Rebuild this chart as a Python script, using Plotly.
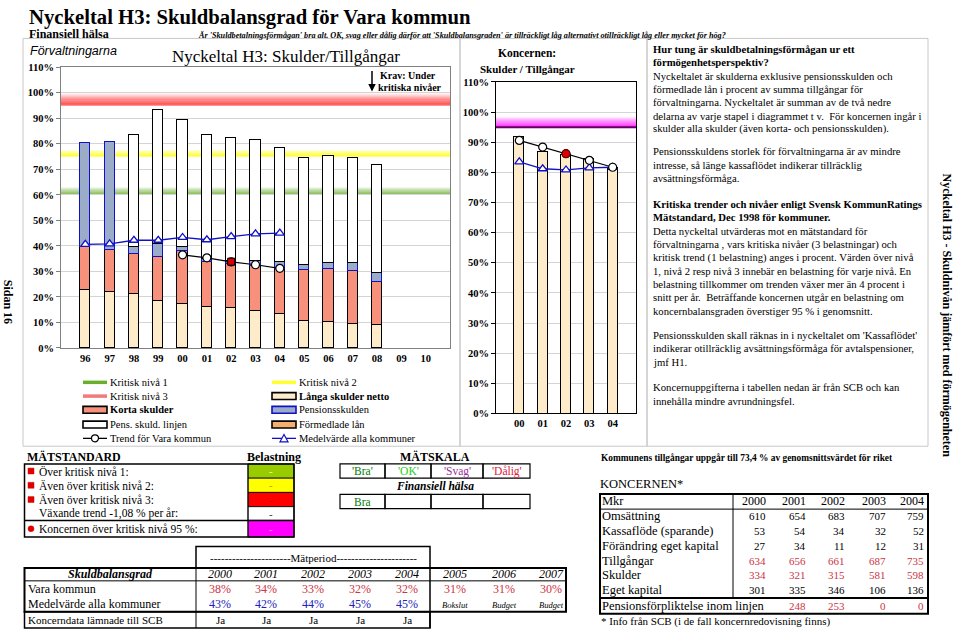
import plotly.graph_objects as go

W, H = 960, 635
SERIF = "Liberation Serif"
SANS = "Liberation Sans"

# ---------------- data: Förvaltningarna ----------------
years = ['96', '97', '98', '99', '00', '01', '02', '03', '04', '05', '06', '07', '08', '09', '10']
langa_skulder = [22.6, 21.9, 20.9, 18.5, 17.1, 16.0, 15.4, 14.4, 13.2, 10.3, 10.1, 9.4, 9.1, None, None]
korta_skulder = [17.0, 16.4, 16.0, 17.0, 20.7, 17.7, 17.4, 17.8, 17.7, 20.1, 20.7, 20.7, 16.7, None, None]
formedlade_lan = [None] * 15
pensionsskulden = [40.5, 42.3, 2.4, 5.2, 1.6, 1.0, 1.2, 1.8, 2.8, 2.1, 2.4, 3.0, 3.5, None, None]
pens_skuld_linjen = [None, None, 44.0, 52.5, 49.9, 48.6, 48.3, 47.3, 44.4, 42.0, 41.9, 41.3, 42.2, None, None]
medel_alla = [40.6, 40.8, 42.2, 42.2, 43.3, 42.4, 43.6, 44.7, 45.0, None, None, None, None, None, None]
trend_vara = [None, None, None, None, 36.5, 35.3, 33.7, 32.6, 31.2, None, None, None, None, None, None]
aktuellt_ar = ['02']
aktuellt_varde = [33.8]
kritisk_niva = [60, 75, 95]

# ---------------- data: Koncernen ----------------
k_years = ['00', '01', '02', '03', '04']
k_skuldgrad = [91.7, 86.8, 85.9, 84.6, 81.4]
k_trend = [90.6, 88.4, 86.2, 84.0, 81.7]
k_medel = [83.5, 81.2, 80.8, 81.5, 81.7]
k_aktuellt_ar = ['02']
k_aktuellt_varde = [86.2]
k_kritisk = [95]

# ---------------- data: tables ----------------
matstandard_rows = ['Över kritisk nivå 1:', 'Även över kritisk nivå 2:', 'Även över kritisk nivå 3:',
                    'Växande trend -1,08 % per år:', 'Koncernen över kritisk nivå 95 %:']
belastning = ['-', '-', '-', '-', '-']
matskala = ["'Bra'", "'OK'", "'Svag'", "'Dålig'"]
halsa = ['Bra', '', '', '']
period_years = ['2000', '2001', '2002', '2003', '2004', '2005', '2006', '2007']
vara_pct = [38, 34, 33, 32, 32, 31, 31, 30]
medel_pct = [43, 42, 44, 45, 45]
period_status = ['Bokslut', 'Budget', 'Budget']
koncerndata = ['Ja', 'Ja', 'Ja', 'Ja', 'Ja']

kon_years = ['2000', '2001', '2002', '2003', '2004']
kon_rows = ['Omsättning', 'Kassaflöde (sparande)', 'Förändring eget kapital', 'Tillgångar', 'Skulder', 'Eget kapital']
omsattning = [610, 654, 683, 707, 759]
kassaflode = [53, 54, 34, 32, 52]
forandring = [27, 34, 11, 12, 31]
tillgangar = [634, 656, 661, 687, 735]
skulder = [334, 321, 315, 581, 598]
eget_kapital = [301, 335, 346, 106, 136]
pensionsforpl = [None, 248, 253, 0, 0]

# ---------------- colours ----------------
C_LANGA = '#FDEBC9'
C_KORTA = '#F8917C'
C_FORM = '#F6AE6E'
C_PENS = '#9BACC8'
C_BLUE = '#1010C8'
C_RED = '#CC3344'
C_GREEN_LVL = '#6AAE2E'
C_YEL_LVL = '#FFFF00'
C_RED_LVL = '#FF2A2A'

fig = go.Figure()

# ---------------- left chart ----------------
bar_w = 0.42
fig.add_trace(go.Bar(x=years, y=langa_skulder, width=bar_w, marker=dict(color=C_LANGA, line=dict(color='black', width=1.2)), xaxis='x', yaxis='y', showlegend=False))
fig.add_trace(go.Bar(x=years, y=korta_skulder, width=bar_w, marker=dict(color=C_KORTA, line=dict(color='black', width=1.2)), xaxis='x', yaxis='y', showlegend=False))
fig.add_trace(go.Bar(x=years, y=formedlade_lan, width=bar_w, marker=dict(color=C_FORM, line=dict(color='black', width=1.2)), xaxis='x', yaxis='y', showlegend=False))
fig.add_trace(go.Bar(x=years, y=pensionsskulden, width=bar_w, marker=dict(color=C_PENS, line=dict(color=C_BLUE, width=1.2)), xaxis='x', yaxis='y', showlegend=False))
fig.add_trace(go.Bar(x=years, y=pens_skuld_linjen, width=bar_w, marker=dict(color='white', line=dict(color='black', width=1.2)), xaxis='x', yaxis='y', showlegend=False))
fig.add_trace(go.Scatter(x=years, y=medel_alla, mode='lines+markers', line=dict(color=C_BLUE, width=1.3),
                         marker=dict(symbol='triangle-up', size=8, color='white', line=dict(color=C_BLUE, width=1.3)),
                         xaxis='x', yaxis='y', showlegend=False))
fig.add_trace(go.Scatter(x=years, y=trend_vara, mode='lines+markers', line=dict(color='black', width=1.2),
                         marker=dict(symbol='circle', size=8, color='white', line=dict(color='black', width=1.2)),
                         xaxis='x', yaxis='y', showlegend=False))
fig.add_trace(go.Scatter(x=aktuellt_ar, y=aktuellt_varde, mode='markers',
                         marker=dict(symbol='square', size=7, color='#DD0000', line=dict(color='black', width=1)),
                         xaxis='x', yaxis='y', showlegend=False))

# ---------------- middle chart ----------------
fig.add_trace(go.Bar(x=k_years, y=k_skuldgrad, width=0.42, marker=dict(color=C_LANGA, line=dict(color='black', width=1.2)), xaxis='x2', yaxis='y2', showlegend=False))
fig.add_trace(go.Scatter(x=k_years, y=k_medel, mode='lines+markers', line=dict(color=C_BLUE, width=1.3),
                         marker=dict(symbol='triangle-up', size=8, color='white', line=dict(color=C_BLUE, width=1.3)),
                         xaxis='x2', yaxis='y2', showlegend=False))
fig.add_trace(go.Scatter(x=k_years, y=k_trend, mode='lines+markers', line=dict(color='black', width=1.2),
                         marker=dict(symbol='circle', size=8, color='white', line=dict(color='black', width=1.2)),
                         xaxis='x2', yaxis='y2', showlegend=False))
fig.add_trace(go.Scatter(x=k_aktuellt_ar, y=k_aktuellt_varde, mode='markers',
                         marker=dict(symbol='circle', size=8, color='#DD0000', line=dict(color='#660000', width=1)),
                         xaxis='x2', yaxis='y2', showlegend=False))

shapes = []
annotations = []


def px(x):
    return x / W


def py(y):
    return 1 - y / H


def T(x, y, text, size=11, color='black', bold=False, italic=False, anchor='left', family=SERIF, angle=0):
    if bold:
        text = '<b>' + text + '</b>'
    if italic:
        text = '<i>' + text + '</i>'
    annotations.append(dict(x=px(x), y=py(y), xref='paper', yref='paper', text=text, showarrow=False,
                            xanchor=anchor, yanchor='middle', borderpad=0,
                            font=dict(family=family, size=size, color=color), textangle=angle))


def R(x0, y0, x1, y1, line='black', width=1, fill=None, layer='above'):
    d = dict(type='rect', xref='paper', yref='paper', x0=px(x0), x1=px(x1), y0=py(y0), y1=py(y1),
             line=dict(color=line, width=width), layer=layer)
    if fill:
        d['fillcolor'] = fill
    shapes.append(d)


def L(x0, y0, x1, y1, color='black', width=1):
    shapes.append(dict(type='line', xref='paper', yref='paper', x0=px(x0), x1=px(x1), y0=py(y0), y1=py(y1),
                       line=dict(color=color, width=width)))


def band(xref, yref, level, thick, color, n=10, top_op=0.05):
    step = thick / n
    for k in range(n):
        op = 1.0 - (1.0 - top_op) * k / (n - 1)
        shapes.append(dict(type='rect', xref=xref, yref=yref, x0=0, x1=1, y0=level + k * step, y1=level + (k + 1) * step,
                           fillcolor=color, opacity=op, line=dict(width=0), layer='below'))


# critical level bands
band('x domain', 'y', kritisk_niva[0], 3.2, C_GREEN_LVL, n=10, top_op=0.04)
band('x domain', 'y', kritisk_niva[1], 2.6, C_YEL_LVL, n=8, top_op=0.15)
band('x domain', 'y', kritisk_niva[2], 5.0, C_RED_LVL, n=12, top_op=0.03)
band('x2 domain', 'y2', k_kritisk[0], 3.6, '#FF00FF', n=12, top_op=0.03)
shapes.append(dict(type='line', xref='x2 domain', yref='y2', x0=0, x1=1, y0=k_kritisk[0], y1=k_kritisk[0],
                   line=dict(color='#660066', width=2), layer='below'))

# frames
R(23, 34, 460, 449, line='#C8C8C8', width=1)
R(460, 34, 647, 449, line='#C8C8C8', width=1)
R(647, 34, 928, 449, line='#C8C8C8', width=1)

# header
T(28, 13, 'Nyckeltal H3: Skuldbalansgrad för Vara kommun', size=20.7, bold=True)
T(28, 30, 'Finansiell hälsa', size=12, bold=True)
T(197, 31, "Är 'Skuldbetalningsförmågan' bra alt. OK, svag eller dålig därför att 'Skuldbalansgraden' är tillräckligt låg alternativt otillräckligt låg eller mycket för hög?",
  size=8.2, bold=True, italic=True)

# left chart titles
T(29, 47, 'Förvaltningarna', size=12.5, italic=True, family=SANS)
T(286, 52, 'Nyckeltal H3: Skulder/Tillgångar', size=17, anchor='center')
T(379, 72, 'Krav: Under', size=10, bold=True)
T(377, 84, 'kritiska nivåer', size=10, bold=True)
annotations.append(dict(x=px(372), y=py(88), xref='paper', yref='paper', ax=0, ay=-22, text='', showarrow=True,
                        arrowhead=2, arrowsize=1, arrowwidth=1.5, arrowcolor='black'))

# middle chart title
T(527, 49, 'Koncernen:', size=11.5, bold=True, anchor='center')
T(527, 65, 'Skulder / Tillgångar', size=11, bold=True, anchor='center')

# legend (manual)
leg_rows = [384, 398, 412, 427, 441]
legend_items = [
    ('line', C_GREEN_LVL, 'Kritisk nivå 1', False), ('line', '#FFFF33', 'Kritisk nivå 2', False),
    ('line', '#F27A7A', 'Kritisk nivå 3', False), ('box', C_LANGA, 'Långa skulder netto', True),
    ('box', C_KORTA, 'Korta skulder', True), ('boxb', C_PENS, 'Pensionsskulden', False),
    ('box', 'white', 'Pens. skuld. linjen', False), ('box', C_FORM, 'Förmedlade lån', False),
    ('trend', 'black', 'Trend för Vara kommun', False), ('medel', C_BLUE, 'Medelvärde alla kommuner', False),
]
for i, (kind, col, name, bold) in enumerate(legend_items):
    cx0 = 83 if i % 2 == 0 else 272
    y = leg_rows[i // 2]
    x1 = cx0 + 24
    if kind == 'line':
        L(cx0, y, x1, y, color=col, width=3.5)
    elif kind in ('box', 'boxb'):
        R(cx0, y - 3.5, x1, y + 3.5, line=(C_BLUE if kind == 'boxb' else 'black'), width=1.6, fill=col)
    elif kind == 'trend':
        L(cx0, y, x1, y, color='black', width=1.3)
        shapes.append(dict(type='circle', xref='paper', yref='paper', x0=px(cx0 + 8.5), x1=px(cx0 + 15.5),
                           y0=py(y + 3.5), y1=py(y - 3.5), fillcolor='white', line=dict(color='black', width=1.2)))
    elif kind == 'medel':
        L(cx0, y, x1, y, color=C_BLUE, width=1.3)
        mx = cx0 + 12
        path = 'M %f %f L %f %f L %f %f Z' % (px(mx - 4), py(y + 3.5), px(mx + 4), py(y + 3.5), px(mx), py(y - 4))
        shapes.append(dict(type='path', xref='paper', yref='paper', path=path, fillcolor='white',
                           line=dict(color=C_BLUE, width=1.2)))
    T(x1 + 2, y, name, size=10.5, bold=bold)

# right explanatory text
text_lines = [
    (45, True, 'Hur tung är skuldbetalningsförmågan ur ett'),
    (58.5, True, 'förmögenhetsperspektiv?'),
    (72, False, 'Nyckeltalet är skulderna exklusive pensionsskulden och'),
    (85.5, False, 'förmedlade lån i procent av summa tillgångar för'),
    (99, False, 'förvaltningarna. Nyckeltalet är summan av de två nedre'),
    (112.5, False, 'delarna av varje stapel i diagrammet t v.\u00a0 För koncernen ingår i'),
    (126, False, 'skulder alla skulder (även korta- och pensionsskulden).'),
    (149, False, 'Pensionsskuldens storlek för förvaltningarna är av mindre'),
    (162.5, False, 'intresse, så länge kassaflödet indikerar tillräcklig'),
    (176, False, 'avsättningsförmåga.'),
    (202.5, True, 'Kritiska trender och nivåer enligt Svensk KommunRatings'),
    (216, True, 'Mätstandard, Dec 1998 för kommuner.'),
    (230, False, 'Detta nyckeltal utvärderas mot en mätstandard för'),
    (243.5, False, 'förvaltningarna , vars kritiska nivåer (3 belastningar) och'),
    (257, False, 'kritisk trend (1 belastning) anges i procent. Värden över nivå'),
    (270.5, False, '1, nivå 2 resp nivå 3 innebär en belastning för varje nivå. En'),
    (284, False, 'belastning tillkommer om trenden växer mer än 4 procent i'),
    (297.5, False, 'snitt per år.\u00a0 Beträffande koncernen utgår en belastning om'),
    (311, False, 'koncernbalansgraden överstiger 95 % i genomsnitt.'),
    (336, False, "Pensionsskulden skall räknas in i nyckeltalet om 'Kassaflödet'"),
    (349.5, False, 'indikerar otillräcklig avsättningsförmåga för avtalspensioner,'),
    (363, False, 'jmf H1.'),
    (389, False, 'Koncernuppgifterna i tabellen nedan är från SCB och kan'),
    (402.5, False, 'innehålla mindre avrundningsfel.'),
]
for y, b, s in text_lines:
    T(652, y, s, size=10.7, bold=b)

# vertical side texts
T(947, 316, 'Nyckeltal H3 - Skuldnivån jämfört med förmögenheten', size=12, bold=True, anchor='center', angle=90)
T(8, 302, 'Sidan 16', size=12, bold=True, anchor='center', angle=90)

# ---------------- MÄTSTANDARD table ----------------
T(26, 460, 'MÄTSTANDARD', size=12, bold=True)
T(246, 460, 'Belastning', size=12, bold=True)
row_edges = [467, 481.5, 496, 510.5, 524.5, 541.5]
bel_fill = ['#99CC00', '#FFFF00', '#FF0000', 'white', '#FF00FF']
bel_txt = ['#FFFF99', '#B0A000', '#AA0000', '#333333', '#FF99FF']
for i, lab in enumerate(matstandard_rows):
    y0, y1 = row_edges[i], row_edges[i + 1]
    yc = (y0 + y1) / 2
    R(248, y0, 294, y1, line='black', width=0.8, fill=bel_fill[i], layer='below')
    T(271, yc, belastning[i], size=11, color=bel_txt[i], anchor='center')
    T(37.5, yc, lab, size=11.5)
    if i < 3:
        R(28, yc - 3, 34, yc + 3, line='#DD0000', width=0.5, fill='#DD0000')
    elif i == 4:
        shapes.append(dict(type='circle', xref='paper', yref='paper', x0=px(28), x1=px(34), y0=py(yc + 3), y1=py(yc - 3),
                           fillcolor='#DD0000', line=dict(color='#DD0000', width=0.5)))
R(24.5, 467, 294, 541.5, line='black', width=1.5)
L(24.5, 524.5, 294, 524.5, color='black', width=1.5)
L(248, 467, 248, 541.5, color='black', width=1)

# MÄTSKALA
T(435, 460, 'MÄTSKALA', size=12, bold=True, anchor='center')
ms_edges = [340, 385, 431, 483, 530]
ms_cols = ['#008000', '#22CC22', '#993399', '#DD2244']
for j in range(4):
    R(ms_edges[j], 467, ms_edges[j + 1], 481.5, line='black', width=1.2)
    T((ms_edges[j] + ms_edges[j + 1]) / 2, 474.5, matskala[j], size=11.5, color=ms_cols[j], anchor='center')
    R(ms_edges[j], 498, ms_edges[j + 1], 512.5, line='black', width=1.2)
    if halsa[j]:
        T((ms_edges[j] + ms_edges[j + 1]) / 2, 505.5, halsa[j], size=11.5, color=ms_cols[j], anchor='center')
T(435, 489.5, 'Finansiell hälsa', size=11.5, bold=True, italic=True, anchor='center')

# ---------------- Skuldbalansgrad table ----------------
R(196, 551, 430, 573, line='black', width=1.5)
T(313, 563, '----------------------Mätperiod----------------------', size=11, anchor='center')
R(24.5, 573, 566, 617.5, line='black', width=2)
R(24.5, 617.5, 430, 634, line='black', width=1.5)
L(196, 573, 196, 634, width=1)
L(430, 573, 430, 634, width=1.5)
L(24.5, 586, 566, 586, width=1)
col_c = [220, 266, 313, 360, 407, 455, 504, 551]
T(110, 579, 'Skuldbalansgrad', size=12, bold=True, italic=True, anchor='center')
T(27, 594.5, 'Vara kommun', size=12)
T(27, 610, 'Medelvärde alla kommuner', size=12)
T(27, 626, 'Koncerndata lämnade till SCB', size=11)
for j, yr in enumerate(period_years):
    T(col_c[j], 579, yr, size=12, italic=True, anchor='center')
    T(col_c[j], 594.5, '%d%%' % vara_pct[j], size=12, color=C_RED, anchor='center')
for j, v in enumerate(medel_pct):
    T(col_c[j], 610, '%d%%' % v, size=12, color='#2222BB', anchor='center')
    T(col_c[j], 626, koncerndata[j], size=11, anchor='center')
for j, s in enumerate(period_status):
    T(col_c[5 + j], 610.5, s, size=8.5, italic=True, anchor='center')

# ---------------- KONCERNEN table ----------------
T(600, 461, 'Kommunens tillgångar uppgår till 73,4 % av genomsnittsvärdet för riket', size=9.4, bold=True)
T(599, 487, 'KONCERNEN*', size=12.5)
R(600, 497.5, 928, 619.5, line='black', width=2)
L(600, 513, 928, 513, width=1)
L(600, 603.5, 928, 603.5, width=2)
L(733, 497.5, 733, 603.5, width=1)
col_r = [767, 807, 846, 887, 925]
T(601, 505, 'Mkr', size=12.5)
for j, yr in enumerate(kon_years):
    T(col_r[j], 505, yr, size=12, anchor='right')
row_vals = [omsattning, kassaflode, forandring, tillgangar, skulder, eget_kapital]
row_cols = ['black', 'black', 'black', C_RED, C_RED, 'black']
for i, lab in enumerate(kon_rows):
    y = 520.5 + 15 * i
    T(601, y, lab, size=12.5)
    for j, v in enumerate(row_vals[i]):
        T(col_r[j], y, str(v), size=11, color=row_cols[i], anchor='right')
T(601, 611.5, 'Pensionsförpliktelse inom linjen', size=12.5)
for j, v in enumerate(pensionsforpl):
    if v is not None:
        T(col_r[j], 611.5, str(v), size=11, color=C_RED, anchor='right')
T(600, 627, '* Info från SCB (i de fall koncernredovisning finns)', size=11)

tickfont = dict(family=SERIF, size=10.5, color='black', weight='bold')
fig.update_layout(
    width=W, height=H, margin=dict(l=0, r=0, t=0, b=0),
    paper_bgcolor='white', plot_bgcolor='white',
    barmode='stack', bargap=0, showlegend=False,
    shapes=shapes, annotations=annotations,
    xaxis=dict(domain=[px(61), px(450)], type='category', categoryorder='array', categoryarray=years,
               range=[-1, 15], tickfont=tickfont, showgrid=False, showline=True, linecolor='#808080',
               mirror=True, ticks='', fixedrange=True),
    yaxis=dict(domain=[py(349), py(63.3)], range=[0, 110], dtick=10, ticksuffix='%', tickfont=tickfont,
               showgrid=True, gridcolor='#D4D4D4', gridwidth=1, showline=True, linecolor='#808080', mirror=True,
               ticks='outside', ticklen=4, tickcolor='#808080', zeroline=False),
    xaxis2=dict(domain=[px(496), px(636)], type='category', categoryorder='array', categoryarray=k_years,
                range=[-1, 5], tickfont=tickfont, showgrid=False, showline=True, linecolor='black',
                mirror=True, ticks='', anchor='y2'),
    yaxis2=dict(domain=[py(415.7), py(78.3)], range=[0, 110], dtick=10, ticksuffix='%', tickfont=tickfont,
                showgrid=True, gridcolor='#D4D4D4', showline=True, linecolor='black', mirror=True,
                ticks='outside', ticklen=4, tickcolor='black', zeroline=False, anchor='x2'),
)

fig.write_html('out.html', config={'displayModeBar': False},
               post_script="document.body.style.margin='0';document.body.style.overflow='hidden';")
